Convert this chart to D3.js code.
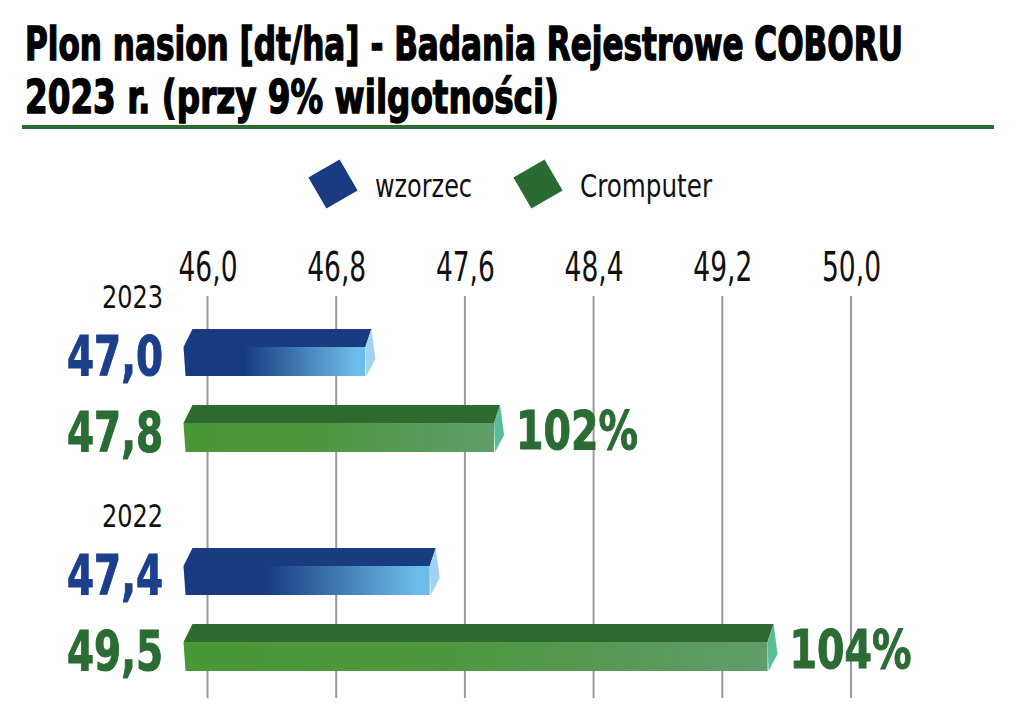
<!DOCTYPE html>
<html>
<head>
<meta charset="utf-8">
<script src="https://cdn.jsdelivr.net/npm/d3@7"></script>
<style>
  body { margin: 0; background: #fff; }
  svg { display: block; }
</style>
</head>
<body>
<div id="chart"></div>
<script>
// Plon nasion - COBORU

var years = ["2023", "2022"];
var series = ["wzorzec", "Cromputer"];
var wzorzecValues = [47.0, 47.4];
var cromputerValues = [47.8, 49.5];
var percentLabels = ["", "102%", "", "104%"];
var tickValues = [46.0, 46.8, 47.6, 48.4, 49.2, 50.0];

var width = 1024, height = 722;
var condensed = "'DejaVu Sans Condensed', 'Liberation Sans Narrow', sans-serif";

var svg = d3.select("#chart").append("svg")
    .attr("width", width)
    .attr("height", height);

svg.append("rect")
    .attr("width", width)
    .attr("height", height)
    .attr("fill", "#fff");

// squeeze a text to a given width (the original font is much narrower)
function fit(sel, w) {
    sel.attr("textLength", w).attr("lengthAdjust", "spacingAndGlyphs");
}

// gradients
var defs = svg.append("defs");

var blueGrad = defs.append("linearGradient")
    .attr("id", "blueFront")
    .attr("x1", "0").attr("x2", "1").attr("y1", "0").attr("y2", "0");
blueGrad.append("stop").attr("offset", "0.33").attr("stop-color", "#173a80");
blueGrad.append("stop").attr("offset", "0.95").attr("stop-color", "#6dbdeb");

var greenGrad = defs.append("linearGradient")
    .attr("id", "greenFront")
    .attr("x1", "0").attr("x2", "1").attr("y1", "0").attr("y2", "0");
greenGrad.append("stop").attr("offset", "0").attr("stop-color", "#4a9736");
greenGrad.append("stop").attr("offset", "0.45").attr("stop-color", "#4e973f");
greenGrad.append("stop").attr("offset", "1").attr("stop-color", "#609d6a");

var colors = {
    wzorzec: {top: "#183b82", front: "url(#blueFront)", cap: "#a3d3f4", label: "#1b3f8b"},
    Cromputer: {top: "#2f6a2e", front: "url(#greenFront)", cap: "#5bbd98", label: "#2a6c33"}
};

// title
var title = svg.append("g")
    .style("font-family", condensed)
    .style("font-weight", "bold")
    .style("font-size", "46px")
    .attr("fill", "#000")
    .attr("stroke", "#000")
    .attr("stroke-width", 1.4);

title.append("text")
    .attr("x", 25).attr("y", 60)
    .call(fit, 878)
    .text("Plon nasion [dt/ha] - Badania Rejestrowe COBORU");

title.append("text")
    .attr("x", 25).attr("y", 113)
    .call(fit, 534)
    .text("2023 r. (przy 9% wilgotności)");

svg.append("rect")
    .attr("x", 22).attr("y", 125)
    .attr("width", 972).attr("height", 4)
    .attr("fill", "#2d6b30");

// legend
var legendW = [97, 132];

var legend = svg.selectAll("g.legend")
    .data(series)
    .enter().append("g")
    .attr("class", "legend")
    .attr("transform", function(d, i) { return "translate(" + (333 + i * 205) + ",184)"; });

legend.append("rect")
    .attr("x", -18).attr("y", -18)
    .attr("width", 36).attr("height", 36)
    .attr("transform", "rotate(-30)")
    .attr("fill", function(d) { return d == "wzorzec" ? "#183b82" : "#2b6a31"; });

legend.append("text")
    .attr("x", 42)
    .attr("y", 13)
    .style("font-family", condensed)
    .style("font-size", "32px")
    .attr("fill", "#111")
    .each(function(d, i) { d3.select(this).call(fit, legendW[i]); })
    .text(function(d) { return d; });

// scales
var x = d3.scaleLinear()
    .domain([46, 50])
    .range([207.5, 851]);

var y0 = d3.scaleBand()
    .domain(years)
    .range([285, 285 + 219 * 2]);

var y1 = d3.scaleBand()
    .domain(series)
    .range([0, 152]);

// axis + gridlines
var xAxis = d3.axisTop(x)
    .tickValues(tickValues)
    .tickSize(0)
    .tickPadding(0)
    .tickFormat(function(d) { return d3.format(".1f")(d).replace(".", ","); });

var axisG = svg.append("g")
    .attr("transform", "translate(0,281)")
    .call(xAxis);
axisG.select(".domain").remove();
axisG.selectAll("text")
    .attr("dy", 0)
    .style("font-family", condensed)
    .style("font-size", "41px")
    .attr("fill", "#111")
    .call(fit, 59);

svg.append("g")
    .selectAll("line")
    .data(tickValues)
    .enter().append("line")
    .attr("x1", function(d) { return x(d); })
    .attr("x2", function(d) { return x(d); })
    .attr("y1", 296)
    .attr("y2", 698)
    .attr("stroke", "#9a9a9a")
    .attr("stroke-width", 2);

// rows
var rows = [];
years.forEach(function(yr, i) {
    rows.push({year: yr, series: "wzorzec", value: wzorzecValues[i], pct: percentLabels[i * 2]});
    rows.push({year: yr, series: "Cromputer", value: cromputerValues[i], pct: percentLabels[i * 2 + 1]});
});

var barH = 47, topH = 18;
var barStart = x(46) - 24;

// year labels
svg.selectAll("text.year")
    .data(years)
    .enter().append("text")
    .attr("class", "year")
    .attr("x", 163)
    .attr("y", function(d) { return y0(d) + 23; })
    .attr("text-anchor", "end")
    .style("font-family", condensed)
    .style("font-size", "32px")
    .attr("fill", "#111")
    .call(fit, 61)
    .text(function(d) { return d; });

var bar = svg.selectAll("g.bar")
    .data(rows)
    .enter().append("g")
    .attr("class", "bar")
    .attr("transform", function(d) { return "translate(0," + (y0(d.year) + 44 + y1(d.series)) + ")"; });

// top face
bar.append("path")
    .attr("fill", function(d) { return colors[d.series].top; })
    .attr("d", function(d) {
        var fx = x(d.value) - 3;
        return "M" + (barStart + 9) + ",0L" + (fx + 6) + ",0L" + fx + "," + topH +
            "L" + barStart + "," + topH + "Z";
    });

// front face
bar.append("path")
    .attr("fill", function(d) { return colors[d.series].front; })
    .attr("d", function(d) {
        var fx = x(d.value) - 3;
        return "M" + barStart + "," + topH + "L" + fx + "," + topH + "L" + fx + "," + barH +
            "L" + (barStart + 2) + "," + barH + "Z";
    });

// end cap
bar.append("path")
    .attr("fill", function(d) { return colors[d.series].cap; })
    .attr("d", function(d) {
        var fx = x(d.value) - 3;
        return "M" + (fx + 6) + ",0L" + (fx + 10) + "," + (topH + 12) + "L" + (fx + 1) + "," + barH +
            "L" + fx + "," + topH + "Z";
    });

// value labels
bar.append("text")
    .attr("x", 163)
    .attr("y", barH - 1)
    .attr("text-anchor", "end")
    .style("font-family", condensed)
    .style("font-weight", "bold")
    .style("font-size", "55px")
    .attr("fill", function(d) { return colors[d.series].label; })
    .attr("stroke", function(d) { return colors[d.series].label; })
    .attr("stroke-width", 1)
    .call(fit, 96)
    .text(function(d) { return d3.format(".1f")(d.value).replace(".", ","); });

// percent labels
bar.filter(function(d) { return d.pct; })
    .append("text")
    .attr("x", function(d) { return x(d.value) + 19; })
    .attr("y", barH - 3)
    .style("font-family", condensed)
    .style("font-weight", "bold")
    .style("font-size", "53px")
    .attr("fill", "#2a6c33")
    .attr("stroke", "#2a6c33")
    .attr("stroke-width", 1)
    .call(fit, 122)
    .text(function(d) { return d.pct; });
</script>
</body>
</html>
